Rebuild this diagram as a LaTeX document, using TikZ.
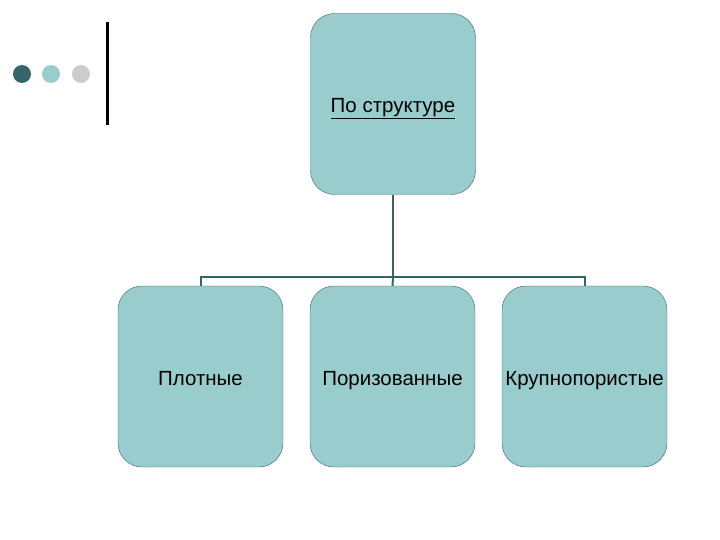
\documentclass[tikz,border=0pt]{standalone}
\usepackage{fontspec}
\setmainfont{Liberation Sans}
\usetikzlibrary{positioning}
\definecolor{boxfill}{HTML}{99CCCC}
\definecolor{boxline}{HTML}{336666}
\definecolor{dotgray}{HTML}{CCCCCC}
\newcommand{\boxtext}[1]{\raisebox{-6pt}{#1}}
\tikzset{
  catbox/.style={draw=boxline, fill=boxfill, rounded corners=24pt,
    minimum width=165pt, minimum height=181pt, inner sep=0pt,
    text height=0.72em, text depth=0.22em,
    font=\fontsize{20.5}{24}\selectfont},
  tree/.style={draw=boxline, line width=2pt}
}
\begin{document}
\begin{tikzpicture}[x=1pt, y=-1pt]
\useasboundingbox (0,0) rectangle (720,540);
% bullets and bar
\fill[boxline] (22,74) circle (9);
\fill[boxfill] (51,74) circle (9);
\fill[dotgray] (81,74) circle (9);
\draw[line width=3pt] (107,22) -- (107,125);
% boxes
\node[catbox] (top) at (393,104) {\boxtext{\underline{По структуре}}};
\node[catbox] (dense) at (200.5,376.5) {\boxtext{Плотные}};
\node[catbox] (porous) at (392.5,376.5) {\boxtext{Поризованные}};
\node[catbox] (coarse) at (584.5,376.5) {\boxtext{Крупнопористые}};
% connectors
\coordinate (fork) at (393,277);
\draw[tree] (top.south) -- (fork);
\draw[tree] (fork) -| (dense.north);
\draw[tree] (fork) -| (coarse.north);
\draw[tree] (fork) -- (porous.north);
\end{tikzpicture}
\end{document}
